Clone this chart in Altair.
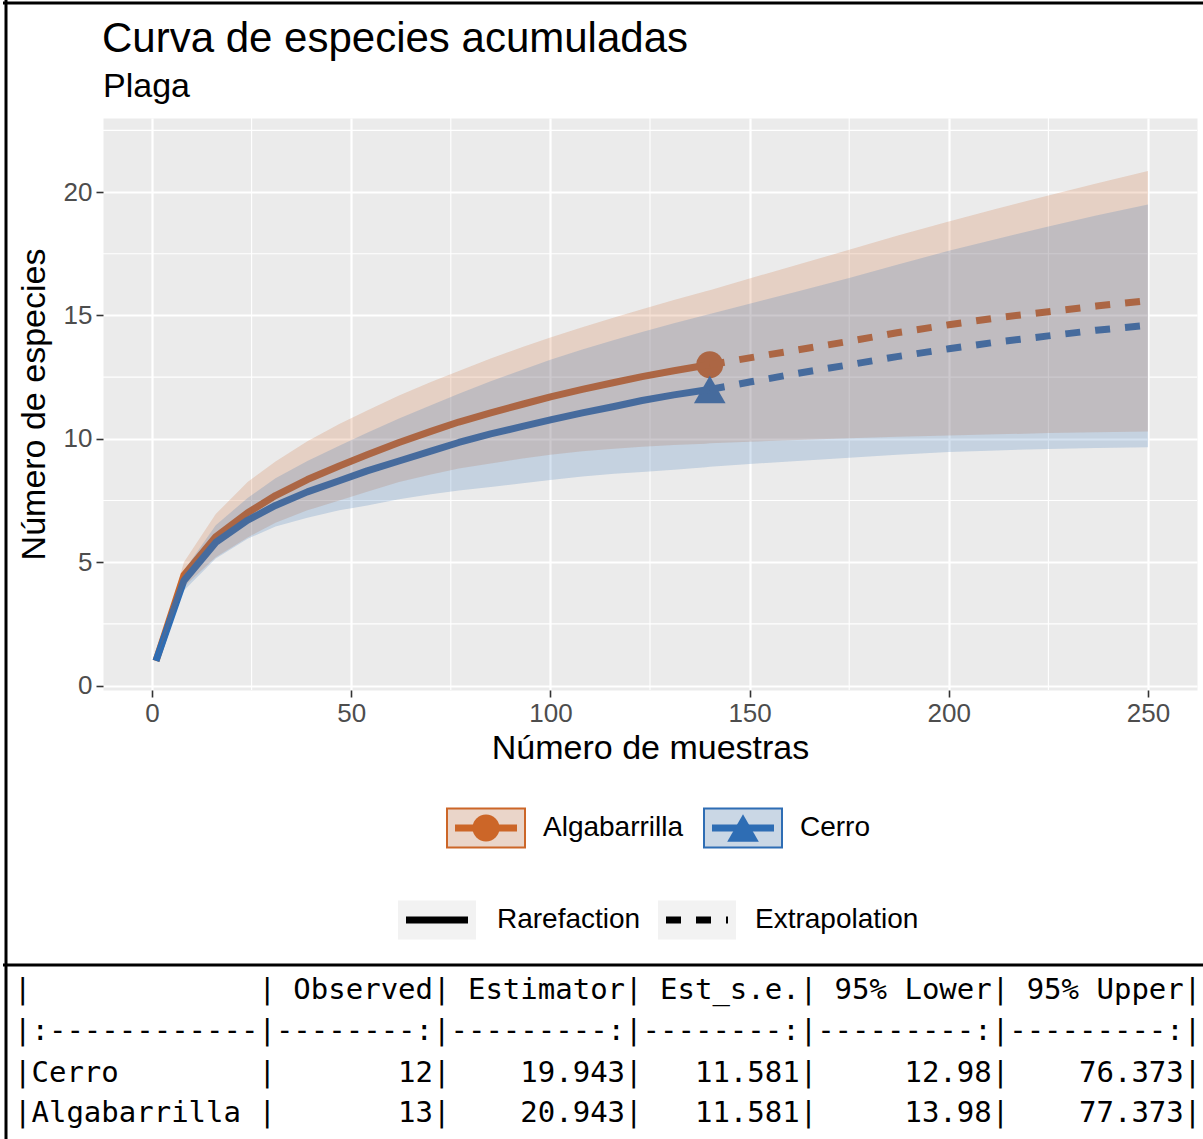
import altair as alt
import pandas as pd

# ---------------------------------------------------------------- data
sites = ["Algabarrilla", "Cerro"]
sample_size = [140, 140]
observed_richness = [13, 12]
methods = ["Rarefaction", "Extrapolation"]

m_rarefaction = [1, 8, 16, 24, 31, 39, 47, 54, 62, 70, 77, 85, 93, 100, 108, 116, 123, 131, 139, 140]
m_extrapolation = [140, 150, 162, 175, 187, 200, 212, 225, 237, 250]

alg_rare_qD = [1.0, 4.47, 6.03, 7.0, 7.7, 8.35, 8.9, 9.35, 9.85, 10.3, 10.68, 11.05, 11.4, 11.7, 12.0, 12.28, 12.52, 12.76, 12.98, 13.0]
alg_rare_lo = [1.0, 4.0, 5.2, 6.0, 6.6, 7.1, 7.5, 7.85, 8.25, 8.55, 8.8, 9.0, 9.2, 9.35, 9.5, 9.6, 9.68, 9.75, 9.8, 9.82]
alg_rare_hi = [1.0, 5.0, 6.95, 8.25, 9.08, 9.9, 10.6, 11.15, 11.75, 12.3, 12.75, 13.25, 13.72, 14.1, 14.52, 14.92, 15.25, 15.62, 15.98, 16.02]
alg_extra_qD = [13.0, 13.28, 13.6, 13.95, 14.3, 14.62, 14.9, 15.15, 15.38, 15.6]
alg_extra_lo = [9.82, 9.88, 9.95, 10.02, 10.08, 10.13, 10.18, 10.23, 10.27, 10.3]
alg_extra_hi = [16.02, 16.5, 17.05, 17.66, 18.23, 18.81, 19.32, 19.86, 20.35, 20.85]

cer_rare_qD = [1.0, 4.25, 5.8, 6.7, 7.3, 7.85, 8.3, 8.7, 9.1, 9.5, 9.85, 10.2, 10.5, 10.77, 11.05, 11.31, 11.55, 11.78, 11.98, 12.0]
cer_rare_lo = [1.0, 3.85, 5.15, 5.95, 6.45, 6.8, 7.1, 7.3, 7.55, 7.75, 7.9, 8.05, 8.2, 8.33, 8.47, 8.58, 8.65, 8.75, 8.85, 8.87]
cer_rare_hi = [1.0, 4.65, 6.5, 7.6, 8.4, 9.1, 9.72, 10.25, 10.82, 11.36, 11.83, 12.33, 12.8, 13.2, 13.62, 14.0, 14.33, 14.68, 15.02, 15.06]
cer_extra_qD = [12.0, 12.3, 12.65, 13.0, 13.33, 13.65, 13.92, 14.17, 14.4, 14.6]
cer_extra_lo = [8.87, 8.98, 9.1, 9.23, 9.35, 9.46, 9.53, 9.59, 9.63, 9.66]
cer_extra_hi = [15.06, 15.47, 15.97, 16.52, 17.05, 17.62, 18.1, 18.6, 19.05, 19.49]

x_ticks = [0, 50, 100, 150, 200, 250]
x_minor = [25, 75, 125, 175, 225]
y_ticks = [0, 5, 10, 15, 20]
y_minor = [2.5, 7.5, 12.5, 17.5, 22.5]

chart_title = "Curva de especies acumuladas"
chart_subtitle = "Plaga"

# Chao1 summary table printed under the chart
table_headers = ["", "Observed", "Estimator", "Est_s.e.", "95% Lower", "95% Upper"]
table_sites = ["Cerro", "Algabarrilla"]
table_observed = [12, 13]
table_estimator = [19.943, 20.943]
table_est_se = [11.581, 11.581]
table_lower95 = [12.98, 13.98]
table_upper95 = [76.373, 77.373]

# ---------------------------------------------------------------- styles
FONT = "Liberation Sans"
MONO = "DejaVu Sans Mono"
site_colors = ["#CC6628", "#2E6DB4"]
site_shapes = ["circle", "triangle-up"]
site_sizes = [729, 1000]
DASH = [15, 15]
LINE_W = 7

W, H = 1094, 572
PAD_L, PAD_T = 103, 118


def px(x):
    return x - PAD_L


def py(y):
    return y - PAD_T


# ---------------------------------------------------------------- frames
curves = {
    "Algabarrilla": (alg_rare_qD, alg_rare_lo, alg_rare_hi, alg_extra_qD, alg_extra_lo, alg_extra_hi),
    "Cerro": (cer_rare_qD, cer_rare_lo, cer_rare_hi, cer_extra_qD, cer_extra_lo, cer_extra_hi),
}


def curve_frame(site, method):
    r_q, r_lo, r_hi, e_q, e_lo, e_hi = curves[site]
    if method == "Rarefaction":
        return pd.DataFrame({"site": site, "method": method, "m": m_rarefaction,
                             "qD": r_q, "lo": r_lo, "hi": r_hi})
    return pd.DataFrame({"site": site, "method": method, "m": m_extrapolation,
                         "qD": e_q, "lo": e_lo, "hi": e_hi})


def band_frame(site):
    a = curve_frame(site, "Rarefaction")
    b = curve_frame(site, "Extrapolation").iloc[1:]
    return pd.concat([a, b], ignore_index=True)


# ---------------------------------------------------------------- scales / axes
x_scale = alt.Scale(domain=[-12.3, 262.3], nice=False, zero=False)
y_scale = alt.Scale(domain=[-0.18, 23.0], nice=False, zero=False)
x_axis = alt.Axis(values=x_ticks, title="Número de muestras", grid=True, gridColor="white", gridWidth=2.2,
                  domain=False, tickColor="#333333", tickWidth=1.6, tickSize=7, labelPadding=3,
                  labelFontSize=26, labelColor="#4D4D4D", labelFont=FONT, titleFont=FONT,
                  titleFontSize=34, titleFontWeight="normal", titleColor="black", titlePadding=5,
                  labelFlush=False)
y_axis = alt.Axis(values=y_ticks, title="Número de especies", grid=True, gridColor="white", gridWidth=2.2,
                  domain=False, tickColor="#333333", tickWidth=1.6, tickSize=7, labelPadding=4,
                  labelFontSize=26, labelColor="#4D4D4D", labelFont=FONT, titleFont=FONT,
                  titleFontSize=34, titleFontWeight="normal", titleColor="black", titlePadding=12,
                  labelFlush=False)
X = alt.X("m:Q", scale=x_scale, axis=x_axis)
Y = alt.Y("qD:Q", scale=y_scale, axis=y_axis)

layers = []

# minor grid
layers.append(alt.Chart(pd.DataFrame({"m": x_minor})).mark_rule(color="white", strokeWidth=1.1).encode(x=X))
layers.append(alt.Chart(pd.DataFrame({"qD": y_minor})).mark_rule(color="white", strokeWidth=1.1).encode(y=Y))

# observed points, then curves (solid rarefaction, dashed extrapolation)
for site, col, shp, sz, n, s_obs in zip(sites, site_colors, site_shapes, site_sizes, sample_size, observed_richness):
    obs = pd.DataFrame({"site": [site], "m": [n], "qD": [s_obs]})
    layers.append(alt.Chart(obs).mark_point(filled=True, opacity=1, shape=shp, size=sz, color=col,
                                            strokeWidth=0).encode(x=X, y=Y))
for site, col in zip(sites, site_colors):
    layers.append(alt.Chart(curve_frame(site, "Rarefaction")).mark_line(
        color=col, strokeWidth=LINE_W, strokeCap="butt", strokeJoin="round").encode(x=X, y=Y))
    layers.append(alt.Chart(curve_frame(site, "Extrapolation")).mark_line(
        color=col, strokeWidth=LINE_W, strokeCap="butt", strokeDash=DASH).encode(x=X, y=Y))

# confidence bands drawn over the curves
for site, col in zip(sites, site_colors):
    layers.append(alt.Chart(band_frame(site)).mark_area(color=col, opacity=0.2).encode(
        x=X, y=alt.Y("lo:Q", scale=y_scale, axis=y_axis), y2="hi:Q"))

# ---------------------------------------------------------------- title block
layers.append(alt.Chart(pd.DataFrame({"t": [chart_title]})).mark_text(
    align="left", baseline="alphabetic", font=FONT, fontSize=42, color="black").encode(
    x=alt.value(px(102)), y=alt.value(py(52)), text="t:N"))
layers.append(alt.Chart(pd.DataFrame({"t": [chart_subtitle]})).mark_text(
    align="left", baseline="alphabetic", font=FONT, fontSize=34, color="black").encode(
    x=alt.value(px(103)), y=alt.value(py(97)), text="t:N"))

# ---------------------------------------------------------------- legends
one = pd.DataFrame({"k": [0]})

# site legend
site_key_left = [447, 704]
site_label_x = [543, 800]
KEY_W, KEY_H = 78, 39
key_mid_y = 828
for site, col, shp, sz, kx, lx in zip(sites, site_colors, site_shapes, site_sizes, site_key_left, site_label_x):
    layers.append(alt.Chart(one).mark_rect(fill="#F2F2F2").encode(
        x=alt.value(px(kx)), x2=alt.value(px(kx + KEY_W)),
        y=alt.value(py(key_mid_y - KEY_H / 2)), y2=alt.value(py(key_mid_y + KEY_H / 2))))
    layers.append(alt.Chart(one).mark_rect(fill=col, fillOpacity=0.2, stroke=col, strokeWidth=2).encode(
        x=alt.value(px(kx)), x2=alt.value(px(kx + KEY_W)),
        y=alt.value(py(key_mid_y - KEY_H / 2)), y2=alt.value(py(key_mid_y + KEY_H / 2))))
    layers.append(alt.Chart(one).mark_rule(color=col, strokeWidth=LINE_W, strokeCap="butt").encode(
        x=alt.value(px(kx + 8)), x2=alt.value(px(kx + KEY_W - 8)), y=alt.value(py(key_mid_y))))
    layers.append(alt.Chart(one).mark_point(filled=True, opacity=1, shape=shp, size=sz, color=col,
                                            strokeWidth=0).encode(
        x=alt.value(px(kx + KEY_W / 2)), y=alt.value(py(key_mid_y))))
    layers.append(alt.Chart(pd.DataFrame({"label": [site]})).mark_text(
        align="left", baseline="middle", font=FONT, fontSize=28, color="black").encode(
        x=alt.value(px(lx)), y=alt.value(py(key_mid_y)), text="label:N"))

# method legend
method_key_left = [398, 658]
method_label_x = [497, 755]
method_mid_y = 920
for meth, kx, lx in zip(methods, method_key_left, method_label_x):
    layers.append(alt.Chart(one).mark_rect(fill="#F2F2F2").encode(
        x=alt.value(px(kx)), x2=alt.value(px(kx + KEY_W)),
        y=alt.value(py(method_mid_y - KEY_H / 2)), y2=alt.value(py(method_mid_y + KEY_H / 2))))
    rule_kw = dict(color="black", strokeWidth=LINE_W, strokeCap="butt")
    if meth == "Extrapolation":
        rule_kw["strokeDash"] = DASH
    layers.append(alt.Chart(one).mark_rule(**rule_kw).encode(
        x=alt.value(px(kx + 8)), x2=alt.value(px(kx + KEY_W - 8)), y=alt.value(py(method_mid_y))))
    layers.append(alt.Chart(pd.DataFrame({"label": [meth]})).mark_text(
        align="left", baseline="middle", font=FONT, fontSize=28, color="black").encode(
        x=alt.value(px(lx)), y=alt.value(py(method_mid_y)), text="label:N"))

# ---------------------------------------------------------------- summary table (markdown style)
cols = [table_sites,
        [str(v) for v in table_observed],
        [f"{v:g}" for v in table_estimator],
        [f"{v:g}" for v in table_est_se],
        [f"{v:g}" for v in table_lower95],
        [f"{v:g}" for v in table_upper95]]
widths = [max(len(h), *(len(c) for c in col)) + 1 for h, col in zip(table_headers, cols)]


def md_row(cells):
    out = []
    for i, (c, w) in enumerate(zip(cells, widths)):
        out.append(c.ljust(w) if i == 0 else c.rjust(w))
    return "|" + "|".join(out) + "|"


sep = "|" + "|".join((":" + "-" * (w - 1)) if i == 0 else ("-" * (w - 1) + ":")
                     for i, w in enumerate(widths)) + "|"
table_lines = [md_row(table_headers), sep] + [md_row([col[r] for col in cols]) for r in range(len(table_sites))]
table_y = [990, 1031, 1073, 1113]
for line, ty in zip(table_lines, table_y):
    layers.append(alt.Chart(pd.DataFrame({"line": [line.replace(" ", "\u00a0")]})).mark_text(
        align="left", baseline="middle", font=MONO, fontSize=29, color="black").encode(
        x=alt.value(px(14)), y=alt.value(py(ty)), text="line:N"))

# ---------------------------------------------------------------- frame around the output cell
frame = [(3, 1210, 3, 3), (6, 6, 0, 1145), (3, 1210, 965, 965)]
for x1, x2, y1, y2 in frame:
    layers.append(alt.Chart(one).mark_rule(color="black", strokeWidth=3).encode(
        x=alt.value(px(x1)), x2=alt.value(px(x2)), y=alt.value(py(y1)), y2=alt.value(py(y2))))

chart = alt.layer(*layers).properties(
    width=W, height=H,
    autosize=alt.AutoSizeParams(type="none"),
    padding={"left": PAD_L, "top": PAD_T, "right": 1203 - PAD_L - W, "bottom": 1139 - PAD_T - H},
    background="white",
).configure_view(fill="#EBEBEB", stroke="transparent")

chart.save("out.html", embed_options={"renderer": "svg", "actions": False})
